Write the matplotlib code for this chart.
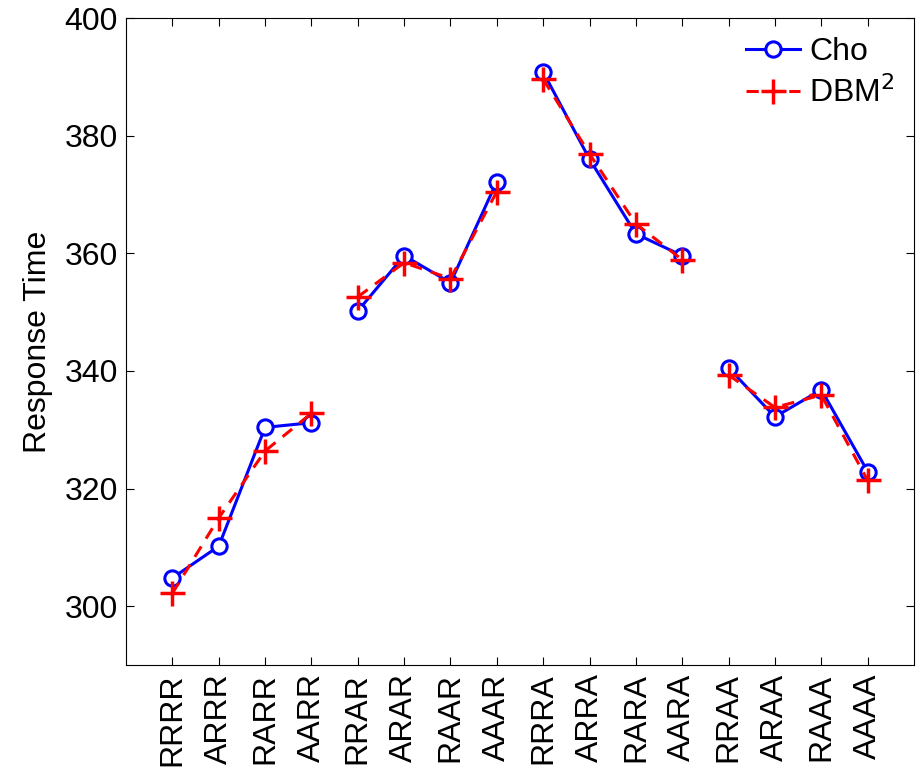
import numpy as np
import matplotlib
matplotlib.use('Agg')
import matplotlib.pyplot as plt

plt.rcParams['font.family'] = ['Liberation Sans', 'DejaVu Sans']

labels = ['RRRR', 'ARRR', 'RARR', 'AARR', 'RRAR', 'ARAR', 'RAAR', 'AAAR',
          'RRRA', 'ARRA', 'RARA', 'AARA', 'RRAA', 'ARAA', 'RAAA', 'AAAA']
cho = [304.8, 310.2, 330.4, 331.2, 350.2, 359.6, 355.0, 372.2,
       390.8, 376.0, 363.3, 359.6, 340.5, 332.2, 336.8, 322.9]
dbm = [302.2, 315.0, 326.4, 332.8, 352.6, 358.4, 355.7, 370.5,
       389.6, 376.9, 365.0, 358.9, 339.3, 333.8, 335.9, 321.4]

x = np.arange(1, 17)

fig = plt.figure(figsize=(9.24, 7.77), dpi=100)
ax = fig.add_axes([0.1364, 0.1441, 0.8528, 0.8327])

for g in range(4):
    s = slice(4 * g, 4 * g + 4)
    ax.plot(x[s], cho[s], '-o', color='#0000ff', lw=2.2, ms=11,
            mfc='white', mew=2.2, label='Cho' if g == 0 else None)
    ax.plot(x[s], dbm[s], '--+', color='#ff0000', lw=2.2, ms=18,
            mew=2.5, dashes=(4, 3), label='DBM$^2$' if g == 0 else None)

ax.set_xlim(0, 17)
ax.set_ylim(290, 400)
ax.set_yticks(range(300, 401, 20))
ax.set_xticks(x)
ax.set_xticklabels(labels, rotation=90)
ax.tick_params(direction='in', top=True, right=True, labelsize=23, length=6,
               pad=6)
ax.set_ylabel('Response Time', fontsize=23, labelpad=8)
ax.legend(loc='upper right', frameon=False, fontsize=23, handlelength=1.7,
          handletextpad=0.3, borderaxespad=0.2, labelspacing=0.3)

plt.savefig('out.png')
